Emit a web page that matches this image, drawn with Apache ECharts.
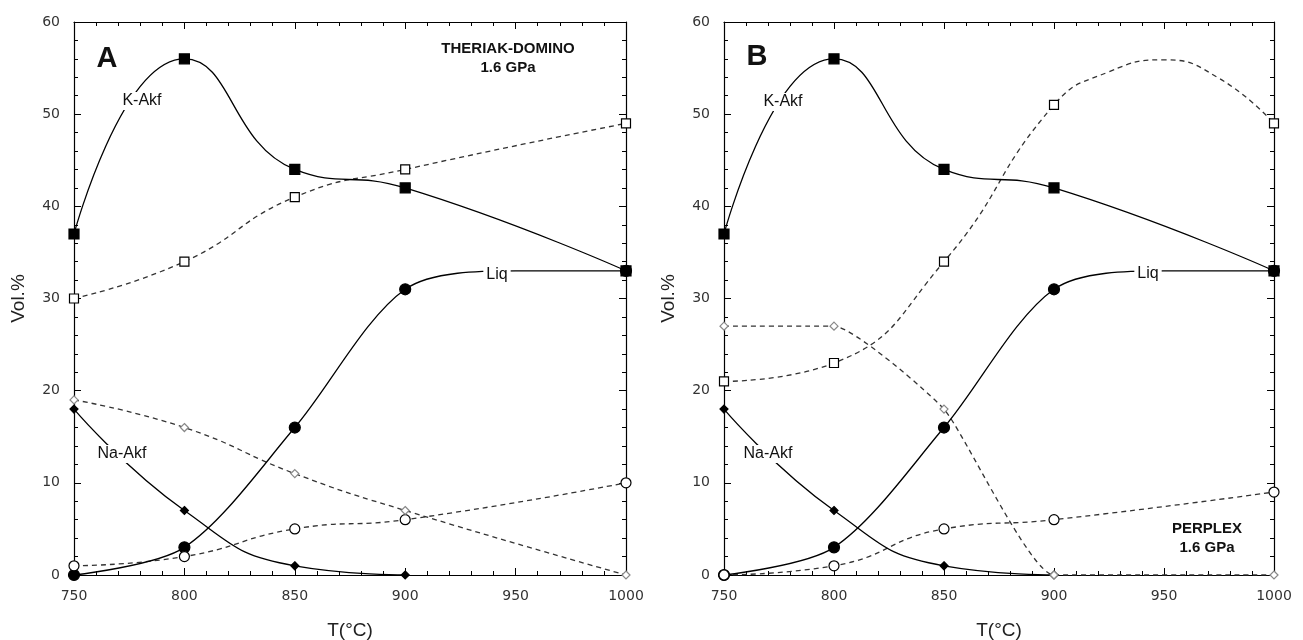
<!DOCTYPE html>
<html><head><meta charset="utf-8">
<script src="https://cdn.jsdelivr.net/npm/echarts@6/dist/echarts.min.js"></script>
<style>html,body{margin:0;padding:0;background:#fff}#c{width:1303px;height:640px}</style>
</head><body><div id="c"></div>
<script>
// ---- data ----
const temps = [750, 800, 850, 900, 1000];
const naTemps = [750, 800, 850, 900];

// Panel A: THERIAK-DOMINO 1.6 GPa
const kAkfA = [37, 56, 44, 42, 33];        // filled squares (solid)
const kAkfOpenA = [30, 34, 41, 44, 49];    // open squares (dashed)
const liqA = [0, 3, 16, 31, 33];           // filled circles (solid)
const liqOpenA = [1, 2, 5, 6, 10];         // open circles (dashed)
const naAkfA = [18, 7, 1, 0];              // filled diamonds (solid)
const naAkfOpenA = [19, 16, 11, 7, 0];     // open diamonds (dashed)
// values (plateau of Liq)
const liqCurveTempsA = [750, 800, 850, 900, 950, 1000];
const liqCurveA = [0, 3, 16, 31, 33, 33];

// Panel B: PERPLEX 1.6 GPa
const kAkfB = [37, 56, 44, 42, 33];
const kAkfOpenB = [21, 23, 34, 51, 49];
const liqB = [0, 3, 16, 31, 33];
const liqOpenB = [0, 1, 5, 6, 9];
const naAkfB = [18, 7, 1, 0];
const naAkfOpenB = [27, 27, 18, 0, 0];
// values
const kAkfOpenCurveTempsB = [750, 800, 850, 900, 925, 950, 975, 1000];
const kAkfOpenCurveB = [21, 23, 34, 51, 54.6, 55.9, 53.9, 49];
const liqCurveTempsB = [750, 800, 850, 900, 950, 1000];
const liqCurveB = [0, 3, 16, 31, 33, 33];

// ---- helpers ----
const pairs = (xs, ys) => xs.map((x, i) => [x, ys[i]]);
const SOLID = {color: '#000', width: 1.3, type: 'solid'};
const DASH = {color: '#333', width: 1.3, type: [5, 4]};

function curve(xi, xs, ys, dashed, smooth) {
  return {type: 'line', xAxisIndex: xi, yAxisIndex: xi, data: pairs(xs, ys),
    showSymbol: false, symbol: 'none', smooth: smooth == null ? 0.5 : smooth,
    lineStyle: dashed ? DASH : SOLID, silent: true, z: 2};
}
function marks(xi, xs, ys, symbol, size, fill, stroke, z) {
  return {type: 'scatter', xAxisIndex: xi, yAxisIndex: xi, data: pairs(xs, ys),
    symbol: symbol, symbolSize: size,
    itemStyle: {color: fill, borderColor: stroke, borderWidth: 1.2, opacity: 1},
    silent: true, z: z || 3};
}
const tickFont = {color: '#333', fontFamily: 'DejaVu Sans', fontSize: 14};
const nameFont = {color: '#222', fontFamily: 'Liberation Sans', fontSize: 19};

function xAx(gi, pos, withLabels) {
  return {type: 'value', gridIndex: gi, position: pos, min: 750, max: 1000, interval: 50,
    axisLine: {show: true, onZero: false, lineStyle: {color: '#000', width: 1.2}},
    axisTick: {show: true, inside: true, length: 7, lineStyle: {color: '#000', width: 1}},
    minorTick: {show: true, splitNumber: 5, length: 4, lineStyle: {color: '#000', width: 1}},
    splitLine: {show: false}, minorSplitLine: {show: false},
    axisLabel: Object.assign({show: withLabels, margin: 14, formatter: v => String(v)}, tickFont),
    name: withLabels ? 'T(°C)' : '', nameLocation: 'middle', nameGap: 46, nameTextStyle: nameFont};
}
function yAx(gi, pos, withLabels) {
  return {type: 'value', gridIndex: gi, position: pos, min: 0, max: 60, interval: 10,
    axisLine: {show: true, onZero: false, lineStyle: {color: '#000', width: 1.2}},
    axisTick: {show: true, inside: true, length: 7, lineStyle: {color: '#000', width: 1}},
    minorTick: {show: true, splitNumber: 5, length: 4, lineStyle: {color: '#000', width: 1}},
    splitLine: {show: false}, minorSplitLine: {show: false},
    axisLabel: Object.assign({show: withLabels, margin: 14}, tickFont),
    name: withLabels ? 'Vol.%' : '', nameLocation: 'middle', nameGap: 46, nameRotate: 90,
    nameTextStyle: nameFont};
}
function txt(x, y, text, size, bold, bg) {
  const s = {text: text, x: x, y: y, align: 'center', verticalAlign: 'middle',
    font: (bold ? 'bold ' : '') + size + 'px "Liberation Sans", Arial, sans-serif', fill: '#111'};
  if (bg) { s.backgroundColor = '#fff'; s.padding = [1, 3]; }
  return {type: 'text', z: 100, style: s};
}

function panel(xi, d) {
  return [
    curve(xi, d.kOpenCurveT || temps, d.kOpenCurve || d.kOpen, true),
    curve(xi, temps, d.lOpen, true),
    curve(xi, temps, d.nOpen, true, d.nSmooth),
    curve(xi, temps, d.k, false),
    curve(xi, d.lCurveT, d.lCurve, false, 0.3),
    curve(xi, naTemps, d.n, false),
    marks(xi, temps, d.k, 'rect', 10, '#000', '#000', 4),
    marks(xi, temps, d.l, 'circle', 11, '#000', '#000', 4),
    marks(xi, naTemps, d.n, 'diamond', 8, '#000', '#000', 4),
    marks(xi, temps, d.kOpen, 'rect', 9, '#fff', '#000', 5),
    marks(xi, temps, d.lOpen, 'circle', 10, '#fff', '#000', 5),
    marks(xi, temps, d.nOpen, 'diamond', 8, '#fff', '#888', 5)
  ];
}

const seriesA = panel(0, {k: kAkfA, kOpen: kAkfOpenA, l: liqA, lOpen: liqOpenA, n: naAkfA, nOpen: naAkfOpenA,
  lCurveT: liqCurveTempsA, lCurve: liqCurveA});
const seriesB = panel(2, {k: kAkfB, kOpen: kAkfOpenB, l: liqB, lOpen: liqOpenB, n: naAkfB, nOpen: naAkfOpenB,
  kOpenCurveT: kAkfOpenCurveTempsB, kOpenCurve: kAkfOpenCurveB, nSmooth: 0.15,
  lCurveT: liqCurveTempsB, lCurve: liqCurveB});

const chart = echarts.init(document.getElementById('c'), null, {renderer: 'canvas'});
chart.setOption({
  animation: false,
  backgroundColor: '#fff',
  grid: [
    {left: 74, right: 677, top: 22, bottom: 65, containLabel: false, outerBoundsMode: 'none'},
    {left: 724, right: 29, top: 22, bottom: 65, containLabel: false, outerBoundsMode: 'none'}
  ],
  xAxis: [xAx(0, 'bottom', true), xAx(0, 'top', false), xAx(1, 'bottom', true), xAx(1, 'top', false)],
  yAxis: [yAx(0, 'left', true), yAx(0, 'right', false), yAx(1, 'left', true), yAx(1, 'right', false)],
  series: seriesA.concat(seriesB),
  graphic: [
    txt(107, 59, 'A', 29, true),
    txt(508, 49, 'THERIAK-DOMINO', 15, true),
    txt(508, 68, '1.6 GPa', 15, true),
    txt(142, 101, 'K-Akf', 16, false, true),
    txt(122, 454, 'Na-Akf', 16, false, true),
    txt(497, 275, 'Liq', 16, false, true),
    txt(757, 57, 'B', 29, true),
    txt(1207, 529, 'PERPLEX', 15, true),
    txt(1207, 548, '1.6 GPa', 15, true),
    txt(783, 102, 'K-Akf', 16, false, true),
    txt(768, 454, 'Na-Akf', 16, false, true),
    txt(1148, 274, 'Liq', 16, false, true)
  ]
});
</script></body></html>
